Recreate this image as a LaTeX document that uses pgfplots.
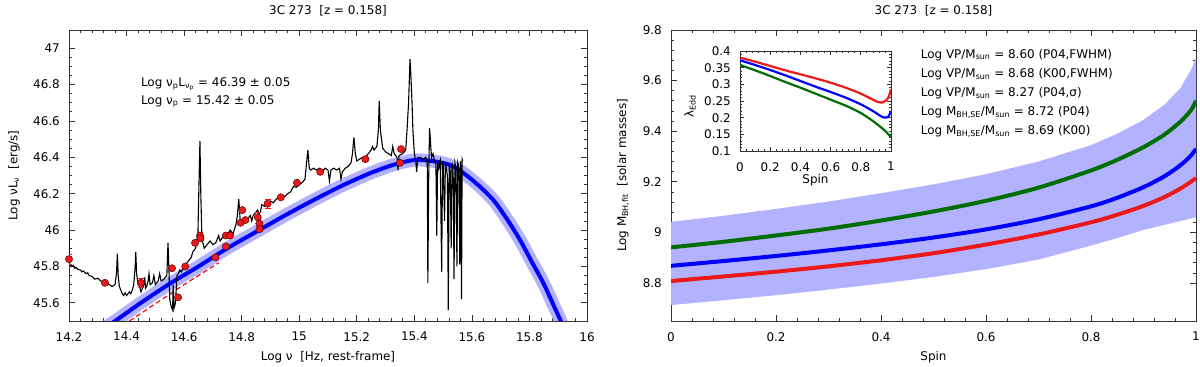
\documentclass[border=0pt]{standalone}
\usepackage{fontspec}
\setmainfont{DejaVu Sans}
\usepackage{pgfplots}
\pgfplotsset{compat=1.18}
\definecolor{bandblue}{RGB}{178,178,255}
\definecolor{myred}{RGB}{235,25,25}
\definecolor{mygreen}{RGB}{0,110,0}
\definecolor{myblue}{RGB}{0,0,255}

\pgfplotstableread{
x y
14.200 46.00
14.201 45.82
14.205 45.81
14.21 45.80
14.215 45.805
14.22 45.79
14.225 45.795
14.23 45.785
14.24 45.78
14.245 45.77
14.25 45.775
14.26 45.76
14.265 45.765
14.27 45.75
14.28 45.745
14.29 45.73
14.30 45.735
14.31 45.72
14.32 45.715
14.33 45.71
14.34 45.70
14.35 45.69
14.36 45.70
14.365 45.76
14.368 45.87
14.371 45.75
14.375 45.69
14.38 45.67
14.385 45.65
14.39 45.64
14.395 45.655
14.40 45.64
14.41 45.66
14.415 45.65
14.42 45.67
14.425 45.70
14.43 45.80
14.432 45.88
14.435 45.76
14.44 45.70
14.445 45.69
14.45 45.66
14.455 45.68
14.46 45.70
14.463 45.74
14.466 45.68
14.47 45.69
14.475 45.72
14.478 45.76
14.482 45.70
14.49 45.71
14.495 45.75
14.50 45.70
14.51 45.72
14.515 45.76
14.52 45.72
14.53 45.73
14.54 45.75
14.544 45.93
14.548 45.75
14.55 45.62
14.555 45.58
14.56 45.56
14.562 45.70
14.565 45.57
14.57 45.60
14.575 45.75
14.58 45.76
14.585 45.78
14.59 45.77
14.60 45.80
14.61 45.82
14.62 45.84
14.625 45.85
14.63 45.88
14.64 45.90
14.648 45.98
14.652 46.28
14.655 46.49
14.658 46.20
14.662 45.95
14.67 45.90
14.68 45.92
14.69 45.94
14.70 45.92
14.71 45.93
14.72 45.97
14.725 45.94
14.73 45.95
14.74 45.98
14.75 45.97
14.76 46.00
14.77 45.98
14.78 46.03
14.785 46.08
14.79 46.17
14.795 46.05
14.80 46.04
14.81 46.05
14.82 46.06
14.83 46.08
14.835 46.05
14.84 46.08
14.85 46.10
14.855 46.11
14.86 46.09
14.865 46.10
14.87 46.14
14.88 46.13
14.89 46.15
14.90 46.16
14.91 46.15
14.92 46.17
14.93 46.18
14.94 46.19
14.95 46.185
14.96 46.20
14.97 46.21
14.98 46.24
14.99 46.235
15.00 46.25
15.01 46.26
15.02 46.28
15.025 46.36
15.03 46.44
15.035 46.34
15.04 46.33
15.05 46.34
15.06 46.33
15.07 46.34
15.08 46.32
15.09 46.34
15.10 46.33
15.105 46.27
15.11 46.33
15.12 46.34
15.13 46.33
15.14 46.34
15.145 46.28
15.15 46.32
15.16 46.34
15.17 46.35
15.18 46.37
15.185 46.42
15.19 46.51
15.195 46.42
15.20 46.38
15.21 46.39
15.22 46.40
15.23 46.40
15.24 46.42
15.25 46.44
15.255 46.46
15.26 46.44
15.27 46.46
15.275 46.55
15.278 46.71
15.282 46.55
15.29 46.45
15.30 46.43
15.31 46.42
15.32 46.41
15.325 46.46
15.33 46.42
15.34 46.40
15.343 46.33
15.347 46.41
15.36 46.42
15.37 46.44
15.375 46.56
15.38 46.70
15.385 46.94
15.388 46.85
15.392 46.70
15.395 46.55
15.40 46.42
15.405 46.38
15.408 46.32
15.412 46.40
15.42 46.40
15.43 46.39
15.44 46.40
15.445 46.36
15.447 45.71
15.45 46.30
15.453 46.56
15.458 46.44
15.46 46.40
15.465 46.42
15.47 46.38
15.475 46.36
15.478 45.97
15.481 46.38
15.485 46.34
15.49 46.38
15.495 45.77
15.498 46.36
15.50 46.38
15.505 46.05
15.508 46.37
15.512 46.33
15.515 46.30
15.518 45.56
15.521 46.36
15.525 46.32
15.528 45.90
15.531 46.37
15.535 46.30
15.538 45.73
15.541 46.37
15.545 46.34
15.548 45.80
15.551 46.37
15.555 46.34
15.558 45.81
15.561 46.38
15.564 45.62
15.566 46.39
15.568 46.38
}\spectrum

\pgfplotstableread{
x y
14.30 45.44
14.36 45.50
14.45 45.60
14.55 45.705
14.65 45.80
14.75 45.90
14.85 45.99
14.95 46.08
15.05 46.165
15.15 46.245
15.25 46.315
15.33 46.36
15.40 46.385
15.46 46.38
15.52 46.36
15.565 46.32
15.62 46.25
15.674 46.166
15.72 46.065
15.767 45.946
15.81 45.82
15.848 45.71
15.88 45.60
15.906 45.51
15.93 45.42
}\fitcurve

\pgfplotstableread{
x y ey
14.200 45.84 0.025
14.325 45.71 0.01
14.450 45.71 0.025
14.558 45.79 0.01
14.579 45.63 0.01
14.604 45.80 0.01
14.638 45.93 0.01
14.655 45.97 0.02
14.657 45.955 0.01
14.709 45.85 0.01
14.745 45.91 0.01
14.745 45.97 0.01
14.760 45.97 0.01
14.796 46.04 0.01
14.802 46.11 0.01
14.813 46.055 0.01
14.856 46.07 0.03
14.862 46.035 0.01
14.862 46.005 0.01
14.890 46.145 0.025
14.936 46.18 0.01
14.992 46.26 0.01
15.073 46.32 0.01
15.230 46.39 0.01
15.350 46.37 0.015
15.354 46.445 0.01
}\photpoints

\pgfplotstableread{
s green blue red
0.00 8.941 8.868 8.808
0.10 8.963 8.887 8.826
0.20 8.988 8.907 8.845
0.30 9.015 8.929 8.866
0.40 9.047 8.953 8.890
0.50 9.083 8.980 8.918
0.60 9.125 9.012 8.952
0.70 9.177 9.052 8.992
0.80 9.245 9.103 9.040
0.85 9.287 9.137 9.070
0.90 9.337 9.179 9.105
0.94 9.387 9.222 9.140
0.97 9.437 9.265 9.173
0.99 9.482 9.303 9.200
1.00 9.520 9.330 9.215
}\masscurves

\pgfplotstableread{
s red blue green
0.00 0.380 0.372 0.358
0.10 0.368 0.358 0.342
0.20 0.355 0.343 0.325
0.30 0.342 0.327 0.307
0.40 0.330 0.310 0.290
0.50 0.318 0.293 0.272
0.60 0.305 0.277 0.254
0.70 0.290 0.260 0.236
0.80 0.272 0.240 0.214
0.88 0.254 0.220 0.190
0.92 0.246 0.208 0.176
0.95 0.247 0.201 0.165
0.98 0.258 0.202 0.152
1.00 0.285 0.220 0.140
}\eddratio

\begin{document}
\fontsize{12}{14}\selectfont
\begin{tikzpicture}
\path[use as bounding box] (0,0) rectangle (1200bp,367bp);
\pgfplotsset{
  every axis/.append style={
    scale only axis,
    font=\fontsize{12}{14}\selectfont,
    /pgf/number format/assume math mode=true,
    tick align=inside,
    major tick length=6bp,
    minor tick length=3bp,
    axis line style={black!80, line width=0.8bp},
    tick style={black!80, line width=0.7bp},
    xticklabel style={yshift=-7bp},
    yticklabel style={xshift=-5bp},
  },
  every axis title/.style={at={(0.5,1)}, anchor=south, yshift=10bp},
}
% ---------------- left panel ----------------
\begin{axis}[
  at={(69bp,46bp)}, anchor=south west,
  width=518bp, height=291bp,
  xmin=14.2, xmax=16, ymin=45.5, ymax=47.1,
  xtick={14.2,14.4,14.6,14.8,15,15.2,15.4,15.6,15.8,16},
  ytick={45.6,45.8,46,46.2,46.4,46.6,46.8,47},
  minor x tick num=4, minor y tick num=3,
  title={3C 273\ \ [z = 0.158]},
  xlabel={Log ν\ \ [Hz, rest-frame]},
  ylabel={Log νL\textsubscript{ν}\ \ [erg/s]},
  xlabel style={at={(axis description cs:0.5,-0.124)}, anchor=center},
  ylabel style={at={(axis description cs:-0.106,0.5)}, anchor=center},
]
\addplot[bandblue, line width=13bp, line cap=butt, smooth] table[x=x,y=y] {\fitcurve};
\addplot[myblue, line width=4bp, smooth] table[x=x,y=y] {\fitcurve};
\addplot[myred, line width=1.3bp, dash pattern=on 5bp off 3bp] coordinates {(14.41,45.5) (14.5,45.595) (14.6,45.70) (14.72,45.82)};
\addplot[black, line width=1.1bp] table[x=x,y=y] {\spectrum};
\addplot[only marks, mark=*, mark size=3.6bp,
  mark options={fill=myred, draw=black!60!red, line width=0.5bp},
  error bars/.cd, y dir=both, y explicit,
  error bar style={myred, line width=0.6bp},
  error mark options={rotate=90, mark size=3bp, myred}]
  table[x=x,y=y,y error=ey] {\photpoints};
\node[anchor=west] at (axis description cs:0.131,0.815) {Log ν\textsubscript{p}L\textsubscript{ν\textsubscript{p}} = 46.39 ± 0.05};
\node[anchor=west] at (axis description cs:0.131,0.755) {Log ν\textsubscript{p} = 15.42 ± 0.05};
\end{axis}
% ---------------- right panel ----------------
\begin{axis}[
  at={(671bp,46bp)}, anchor=south west,
  width=525bp, height=291bp,
  xmin=0, xmax=1, ymin=8.65, ymax=9.8,
  xtick={0,0.2,0.4,0.6,0.8,1},
  ytick={8.8,9,9.2,9.4,9.6,9.8},
  minor x tick num=4, minor y tick num=4,
  title={3C 273\ \ [z = 0.158]},
  xlabel={Spin},
  ylabel={Log M\textsubscript{BH,fit}\ \ [solar masses]},
  xlabel style={at={(axis description cs:0.5,-0.124)}, anchor=center},
  ylabel style={at={(axis description cs:-0.0914,0.5)}, anchor=center},
]
\addplot[draw=none, fill=bandblue] coordinates {
(0.00,9.042) (0.10,9.066) (0.20,9.093) (0.30,9.122) (0.40,9.155) (0.50,9.190) (0.60,9.230) (0.70,9.280) (0.80,9.345) (0.85,9.390) (0.90,9.445) (0.94,9.505) (0.97,9.570) (0.99,9.640) (1.00,9.690)
(1.00,9.060) (0.99,9.055) (0.97,9.045) (0.94,9.030) (0.90,9.010) (0.85,8.978) (0.80,8.948) (0.70,8.893) (0.60,8.855) (0.50,8.824) (0.40,8.798) (0.30,8.774) (0.20,8.752) (0.10,8.732) (0.00,8.713)};
\addplot[myred, line width=4bp, smooth] table[x=s,y=red] {\masscurves};
\addplot[myblue, line width=4bp, smooth] table[x=s,y=blue] {\masscurves};
\addplot[mygreen, line width=4bp, smooth] table[x=s,y=green] {\masscurves};
\node[anchor=west] at (axis description cs:0.468,0.915) {Log VP/M\textsubscript{sun} = 8.60 (P04,FWHM)};
\node[anchor=west] at (axis description cs:0.468,0.849) {Log VP/M\textsubscript{sun} = 8.68 (K00,FWHM)};
\node[anchor=west] at (axis description cs:0.468,0.783) {Log VP/M\textsubscript{sun} = 8.27 (P04,σ)};
\node[anchor=west] at (axis description cs:0.468,0.717) {Log M\textsubscript{BH,SE}/M\textsubscript{sun} = 8.72 (P04)};
\node[anchor=west] at (axis description cs:0.468,0.651) {Log M\textsubscript{BH,SE}/M\textsubscript{sun} = 8.69 (K00)};
\end{axis}
% ---------------- inset ----------------
\begin{axis}[
  at={(740bp,216bp)}, anchor=south west,
  width=151bp, height=100bp,
  xmin=0, xmax=1, ymin=0.1, ymax=0.4,
  xtick={0,0.2,0.4,0.6,0.8,1},
  ytick={0.1,0.15,0.2,0.25,0.3,0.35,0.4},
  minor x tick num=4, minor y tick num=4,
  major tick length=4bp, minor tick length=2bp,
  axis background/.style={fill=white},
  xlabel={Spin},
  ylabel={λ\textsubscript{Edd}},
  xlabel style={at={(axis description cs:0.5,-0.29)}, anchor=center},
  ylabel style={at={(axis description cs:-0.33,0.45)}, anchor=center},
]
\addplot[myred, line width=2.2bp, smooth] table[x=s,y=red] {\eddratio};
\addplot[myblue, line width=2.2bp, smooth] table[x=s,y=blue] {\eddratio};
\addplot[mygreen, line width=2.2bp, smooth] table[x=s,y=green] {\eddratio};
\end{axis}
\end{tikzpicture}
\end{document}
